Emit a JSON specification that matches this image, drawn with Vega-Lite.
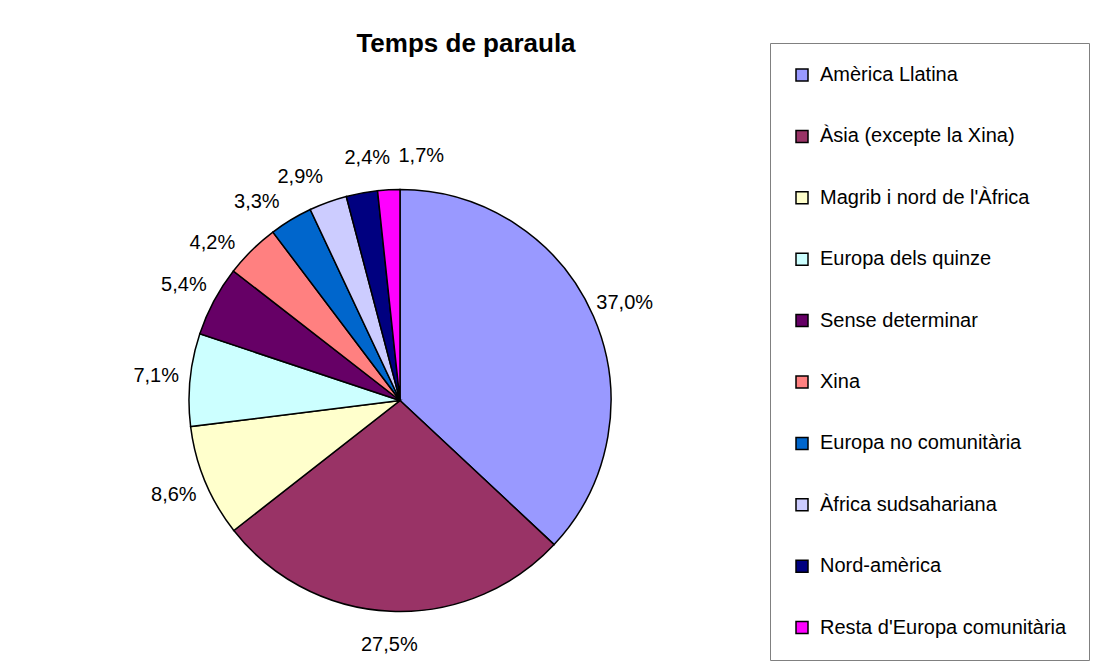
{
  "$schema": "https://vega.github.io/schema/vega-lite/v6.json",
  "autosize": {"type": "none"},
  "width": 800,
  "height": 541,
  "padding": {"top": 130, "left": 0, "right": 301, "bottom": 0},
  "background": "white",
  "title": {
    "text": "Temps de paraula",
    "font": "Liberation Sans",
    "fontSize": 26,
    "fontWeight": "bold",
    "color": "black",
    "anchor": "middle",
    "frame": "group",
    "dx": 66,
    "offset": -14
  },
  "data": {
    "values": [
      {"region": "Amèrica Llatina", "v": 37.0, "lbl": "37,0%", "o": 1},
      {"region": "Àsia (excepte la Xina)", "v": 27.5, "lbl": "27,5%", "o": 2},
      {"region": "Magrib i nord de l'Àfrica", "v": 8.6, "lbl": "8,6%", "o": 3},
      {"region": "Europa dels quinze", "v": 7.1, "lbl": "7,1%", "o": 4},
      {"region": "Sense determinar", "v": 5.4, "lbl": "5,4%", "o": 5},
      {"region": "Xina", "v": 4.2, "lbl": "4,2%", "o": 6},
      {"region": "Europa no comunitària", "v": 3.3, "lbl": "3,3%", "o": 7},
      {"region": "Àfrica sudsahariana", "v": 2.9, "lbl": "2,9%", "o": 8},
      {"region": "Nord-amèrica", "v": 2.4, "lbl": "2,4%", "o": 9},
      {"region": "Resta d'Europa comunitària", "v": 1.7, "lbl": "1,7%", "o": 10}
    ]
  },
  "encoding": {
    "order": {"field": "o", "type": "quantitative"}
  },
  "layer": [
    {
      "mark": {"type": "arc", "outerRadius": 211, "stroke": "black", "strokeWidth": 1.5},
      "encoding": {
        "theta": {"field": "v", "type": "quantitative", "stack": true},
        "color": {
          "field": "region",
          "type": "nominal",
          "scale": {
            "domain": ["Amèrica Llatina", "Àsia (excepte la Xina)", "Magrib i nord de l'Àfrica", "Europa dels quinze", "Sense determinar", "Xina", "Europa no comunitària", "Àfrica sudsahariana", "Nord-amèrica", "Resta d'Europa comunitària"],
            "range": ["#9999FF", "#993366", "#FFFFCC", "#CCFFFF", "#660066", "#FF8080", "#0066CC", "#CCCCFF", "#000080", "#FF00FF"]
          },
          "legend": {
            "title": null,
            "orient": "none",
            "legendX": 770,
            "legendY": -87,
            "padding": 22,
            "strokeColor": "#808080",
            "symbolType": "square",
            "symbolSize": 144,
            "symbolStrokeColor": "black",
            "symbolStrokeWidth": 1.5,
            "symbolOpacity": 1,
            "labelFont": "Liberation Sans",
            "labelFontSize": 20,
            "labelColor": "black",
            "labelOffset": 8,
            "labelLimit": 400,
            "rowPadding": 41.4
          }
        }
      }
    },
    {
      "mark": {"type": "text", "radius": 245, "font": "Liberation Sans", "fontSize": 20, "color": "black"},
      "encoding": {
        "theta": {
          "field": "v",
          "type": "quantitative",
          "stack": true,
          "scale": {
            "domain": [0, 82.9, 87.7, 94.55, 99.25, 100.1],
            "range": [0, 5.203, 5.411, 5.864, 6.370, 6.423],
            "nice": false,
            "zero": false
          }
        },
        "text": {"field": "lbl", "type": "nominal"}
      }
    }
  ],
  "resolve": {"scale": {"theta": "independent"}}
}
